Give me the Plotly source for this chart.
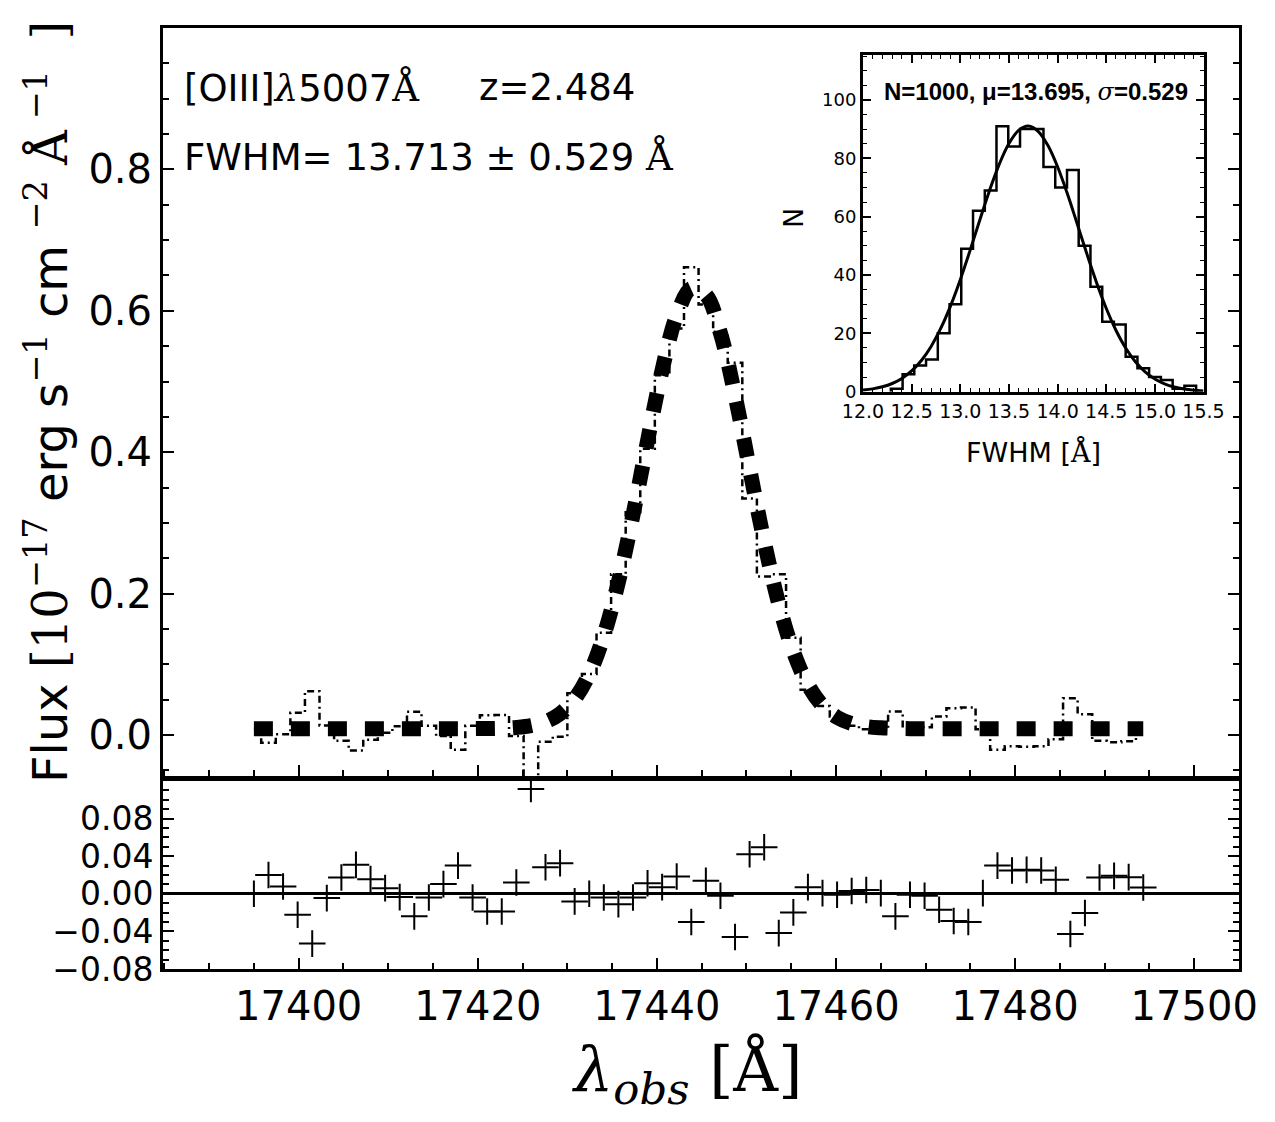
import plotly.graph_objects as go

# ---------------- data ----------------
wavelength = [
    17395.000, 17396.628, 17398.256, 17399.884, 17401.512, 17403.140, 17404.768, 17406.396,
    17408.024, 17409.652, 17411.280, 17412.908, 17414.536, 17416.164, 17417.792, 17419.420,
    17421.048, 17422.676, 17424.304, 17425.932, 17427.560, 17429.188, 17430.816, 17432.444,
    17434.072, 17435.700, 17437.328, 17438.956, 17440.584, 17442.212, 17443.840, 17445.468,
    17447.096, 17448.724, 17450.352, 17451.980, 17453.608, 17455.236, 17456.864, 17458.492,
    17460.120, 17461.748, 17463.376, 17465.004, 17466.632, 17468.260, 17469.888, 17471.516,
    17473.144, 17474.772, 17476.400, 17478.028, 17479.656, 17481.284, 17482.912, 17484.540,
    17486.168, 17487.796, 17489.424, 17491.052, 17492.680, 17494.308]

model_flux = [
    0.0090, 0.0090, 0.0090, 0.0090, 0.0090, 0.0090, 0.0090, 0.0090,
    0.0090, 0.0090, 0.0090, 0.0090, 0.0090, 0.0090, 0.0090, 0.0090,
    0.0092, 0.0096, 0.0107, 0.0132, 0.0188, 0.0301, 0.0510, 0.0863,
    0.1406, 0.2164, 0.3111, 0.4160, 0.5161, 0.5933, 0.6316, 0.6226,
    0.5683, 0.4804, 0.3764, 0.2739, 0.1856, 0.1179, 0.0711, 0.0417,
    0.0250, 0.0162, 0.0120, 0.0102, 0.0094, 0.0090, 0.0090, 0.0090,
    0.0090, 0.0090, 0.0090, 0.0090, 0.0090, 0.0090, 0.0090, 0.0090,
    0.0090, 0.0090, 0.0090, 0.0090, 0.0090, 0.0090]

residual = [
    0.0000, 0.0200, 0.0078, -0.0223, -0.0530, -0.0046, 0.0173, 0.0308,
    0.0156, 0.0060, -0.0035, -0.0240, -0.0039, 0.0103, 0.0300, -0.0039,
    -0.0188, -0.0188, 0.0120, 0.1115, 0.0283, 0.0326, -0.0081, 0.0000,
    -0.0039, -0.0110, -0.0039, 0.0113, 0.0071, 0.0184, -0.0300, 0.0138,
    -0.0020, -0.0460, 0.0420, 0.0496, -0.0418, -0.0198, 0.0071, 0.0007,
    -0.0010, 0.0030, 0.0040, 0.0007, -0.0240, -0.0010, -0.0020, -0.0170,
    -0.0290, -0.0300, 0.0007, 0.0300, 0.0248, 0.0255, 0.0248, 0.0149,
    -0.0428, -0.0205, 0.0173, 0.0191, 0.0177, 0.0067]

# observed spectrum = model - residual (residual plotted as model - data)
flux = [m - r for m, r in zip(model_flux, residual)]

hist_edges = [
    12.286, 12.407, 12.527, 12.648, 12.769, 12.890, 13.010, 13.131, 13.252,
    13.372, 13.493, 13.614, 13.734, 13.855, 13.976, 14.097, 14.217, 14.338,
    14.459, 14.579, 14.700, 14.821, 14.941, 15.062, 15.183, 15.304, 15.424]
hist_counts = [1, 6, 9, 11, 20, 30, 49, 62, 69, 91, 84, 90, 90, 77, 70, 76,
               50, 36, 24, 23, 12, 8, 5, 4, 1, 2]

fit_x = [12.0, 12.1, 12.2, 12.3, 12.4, 12.5, 12.6, 12.7, 12.8, 12.9,
         13.0, 13.1, 13.2, 13.3, 13.4, 13.5, 13.6, 13.7, 13.8, 13.9,
         14.0, 14.1, 14.2, 14.3, 14.4, 14.5, 14.6, 14.7, 14.8, 14.9,
         15.0, 15.1, 15.2, 15.3, 15.4, 15.5]
fit_n = [0.54, 0.97, 1.68, 2.81, 4.55, 7.10, 10.69, 15.52, 21.76, 29.43,
         38.41, 48.36, 58.76, 68.88, 77.92, 85.05, 89.57, 91.03, 89.25, 84.45,
         77.09, 67.91, 57.71, 47.34, 37.45, 28.60, 21.07, 14.97, 10.27, 6.80,
         4.34, 2.68, 1.59, 0.91, 0.51, 0.27]

main_yticks = [0.0, 0.2, 0.4, 0.6, 0.8]
resid_yticks = [-0.08, -0.04, 0.0, 0.04, 0.08]

# ---------------- layout geometry ----------------
W, H = 1275, 1122
L, R, T, B = 163, 36, 28, 153
PW, PH = W - L - R, H - T - B


def px(x):
    return (x - L) / PW


def py(y):
    return 1 - (y - T) / PH


SANS = "DejaVu Sans"
SERIF = "DejaVu Serif"

fig = go.Figure()

fig.add_trace(go.Scatter(
    x=wavelength, y=model_flux, mode="lines", xaxis="x", yaxis="y",
    line=dict(color="black", width=15, dash="19px,18px", shape="spline"),
    hoverinfo="skip"))
fig.add_trace(go.Scatter(
    x=wavelength, y=flux, mode="lines", xaxis="x", yaxis="y",
    line=dict(color="black", width=2.5, dash="7px,4px,2px,4px", shape="hvh")))
fig.add_trace(go.Scatter(
    x=wavelength, y=residual, mode="markers", xaxis="x2", yaxis="y2",
    marker=dict(symbol="cross-thin", size=19, color="black",
                line=dict(width=2, color="black"))))

hx = [hist_edges[0]] + hist_edges
hy = [0] + hist_counts + [0]
fig.add_trace(go.Scatter(
    x=hx, y=hy, mode="lines", xaxis="x3", yaxis="y3",
    line=dict(color="black", width=2.5, shape="hv")))
fig.add_trace(go.Scatter(
    x=fit_x, y=fit_n, mode="lines", xaxis="x3", yaxis="y3",
    line=dict(color="black", width=3, shape="spline")))

frame = dict(showline=True, linecolor="black", linewidth=3, showgrid=False,
             zeroline=False, ticks="inside", tickcolor="black", tickwidth=1.5)

xr = [17384.85, 17505.0]

fig.update_layout(
    width=W, height=H,
    margin=dict(l=L, r=R, t=T, b=B, pad=0),
    paper_bgcolor="white", plot_bgcolor="white",
    showlegend=False,
    font=dict(family=SANS, color="black"),
    xaxis=dict(frame, domain=[0, 1], anchor="y", range=xr, mirror=True,
               tick0=17400, dtick=20, ticklen=11, showticklabels=False,
               minor=dict(dtick=5, tick0=17400, ticklen=6, ticks="inside",
                          tickcolor="black", tickwidth=1.5)),
    yaxis=dict(frame, domain=[py(776), 1], anchor="x", range=[-0.058, 1.0],
               mirror="ticks", tickmode="array", tickvals=main_yticks,
               tickformat=".1f", ticklen=11, tickfont=dict(size=40, family=SANS),
               minor=dict(tickmode="linear", tick0=0, dtick=0.05, ticklen=6,
                          ticks="inside", tickcolor="black", tickwidth=1.5)),
    xaxis2=dict(frame, domain=[0, 1], anchor="y2", range=xr, mirror=True,
                tick0=17400, dtick=20, ticklen=11, tickformat="d",
                tickfont=dict(size=40, family=SANS),
                minor=dict(dtick=5, tick0=17400, ticklen=6, ticks="inside",
                           tickcolor="black", tickwidth=1.5)),
    yaxis2=dict(frame, domain=[0, py(781)], anchor="x2", range=[-0.08, 0.12],
                mirror="ticks", tickmode="array", tickvals=resid_yticks,
                tickformat=".2f", ticklen=11, tickfont=dict(size=33, family=SANS),
                zeroline=True, zerolinecolor="black", zerolinewidth=2.5,
                minor=dict(tickmode="linear", tick0=0, dtick=0.01, ticklen=6,
                           ticks="inside", tickcolor="black", tickwidth=1.5)),
    xaxis3=dict(frame, domain=[px(863), px(1203.5)], anchor="y3", range=[12.0, 15.5],
                mirror="ticks", tick0=12.0, dtick=0.5, tickformat=".1f", ticklen=8,
                tickfont=dict(size=19, family=SANS),
                minor=dict(dtick=0.1, tick0=12.0, ticklen=4, ticks="inside",
                           tickcolor="black", tickwidth=1.2)),
    yaxis3=dict(frame, domain=[py(391.7), py(55)], anchor="x3", range=[0, 115.4],
                mirror="ticks", tick0=0, dtick=20, ticklen=8,
                tickfont=dict(size=18, family=SANS),
                minor=dict(dtick=5, tick0=0, ticklen=4, ticks="inside",
                           tickcolor="black", tickwidth=1.2)),
)

serif_A = '<span style="font-family:DejaVu Serif">Å</span>'

annotations = [
    dict(text='[OIII]<span style="font-family:DejaVu Serif"><i>λ</i></span>5007' + serif_A,
         x=px(182), y=py(88), xanchor="left", yanchor="middle",
         font=dict(size=37, family=SANS)),
    dict(text="z=2.484", x=px(477), y=py(88), xanchor="left", yanchor="middle",
         font=dict(size=37, family=SANS)),
    dict(text="FWHM= 13.713 ± 0.529 " + serif_A,
         x=px(182), y=py(157), xanchor="left", yanchor="middle",
         font=dict(size=37, family=SANS)),
    dict(text='Flux <span style="font-family:DejaVu Serif">[10<sup>−17</sup></span> erg s'
              '<span style="font-family:DejaVu Serif"><sup>−1</sup></span> cm '
              '<span style="font-family:DejaVu Serif"><sup>−2</sup> Å<sup> −1</sup>  ]</span>',
         x=px(47), y=py(402), textangle=-90, xanchor="center", yanchor="middle",
         font=dict(size=48, family=SANS)),
    dict(text='<i>λ</i><sub><i>obs</i></sub> [Å]',
         x=px(686), y=py(1073), xanchor="center", yanchor="middle",
         font=dict(size=62, family=SERIF)),
    dict(text='<b>N=1000, μ=13.695, </b><span style="font-family:DejaVu Serif"><i>σ</i></span><b>=0.529</b>',
         x=px(1036), y=py(92), xanchor="center", yanchor="middle",
         font=dict(size=24, family="Liberation Sans")),
    dict(text="N", x=px(793), y=py(218), textangle=-90, xanchor="center", yanchor="middle",
         font=dict(size=27, family=SANS)),
    dict(text="FWHM [" + serif_A + "]", x=px(1033), y=py(452), xanchor="center",
         yanchor="middle", font=dict(size=27, family=SANS)),
]
for a in annotations:
    a.update(xref="paper", yref="paper", showarrow=False)
fig.update_layout(annotations=annotations)

fig.write_html("out.html")
